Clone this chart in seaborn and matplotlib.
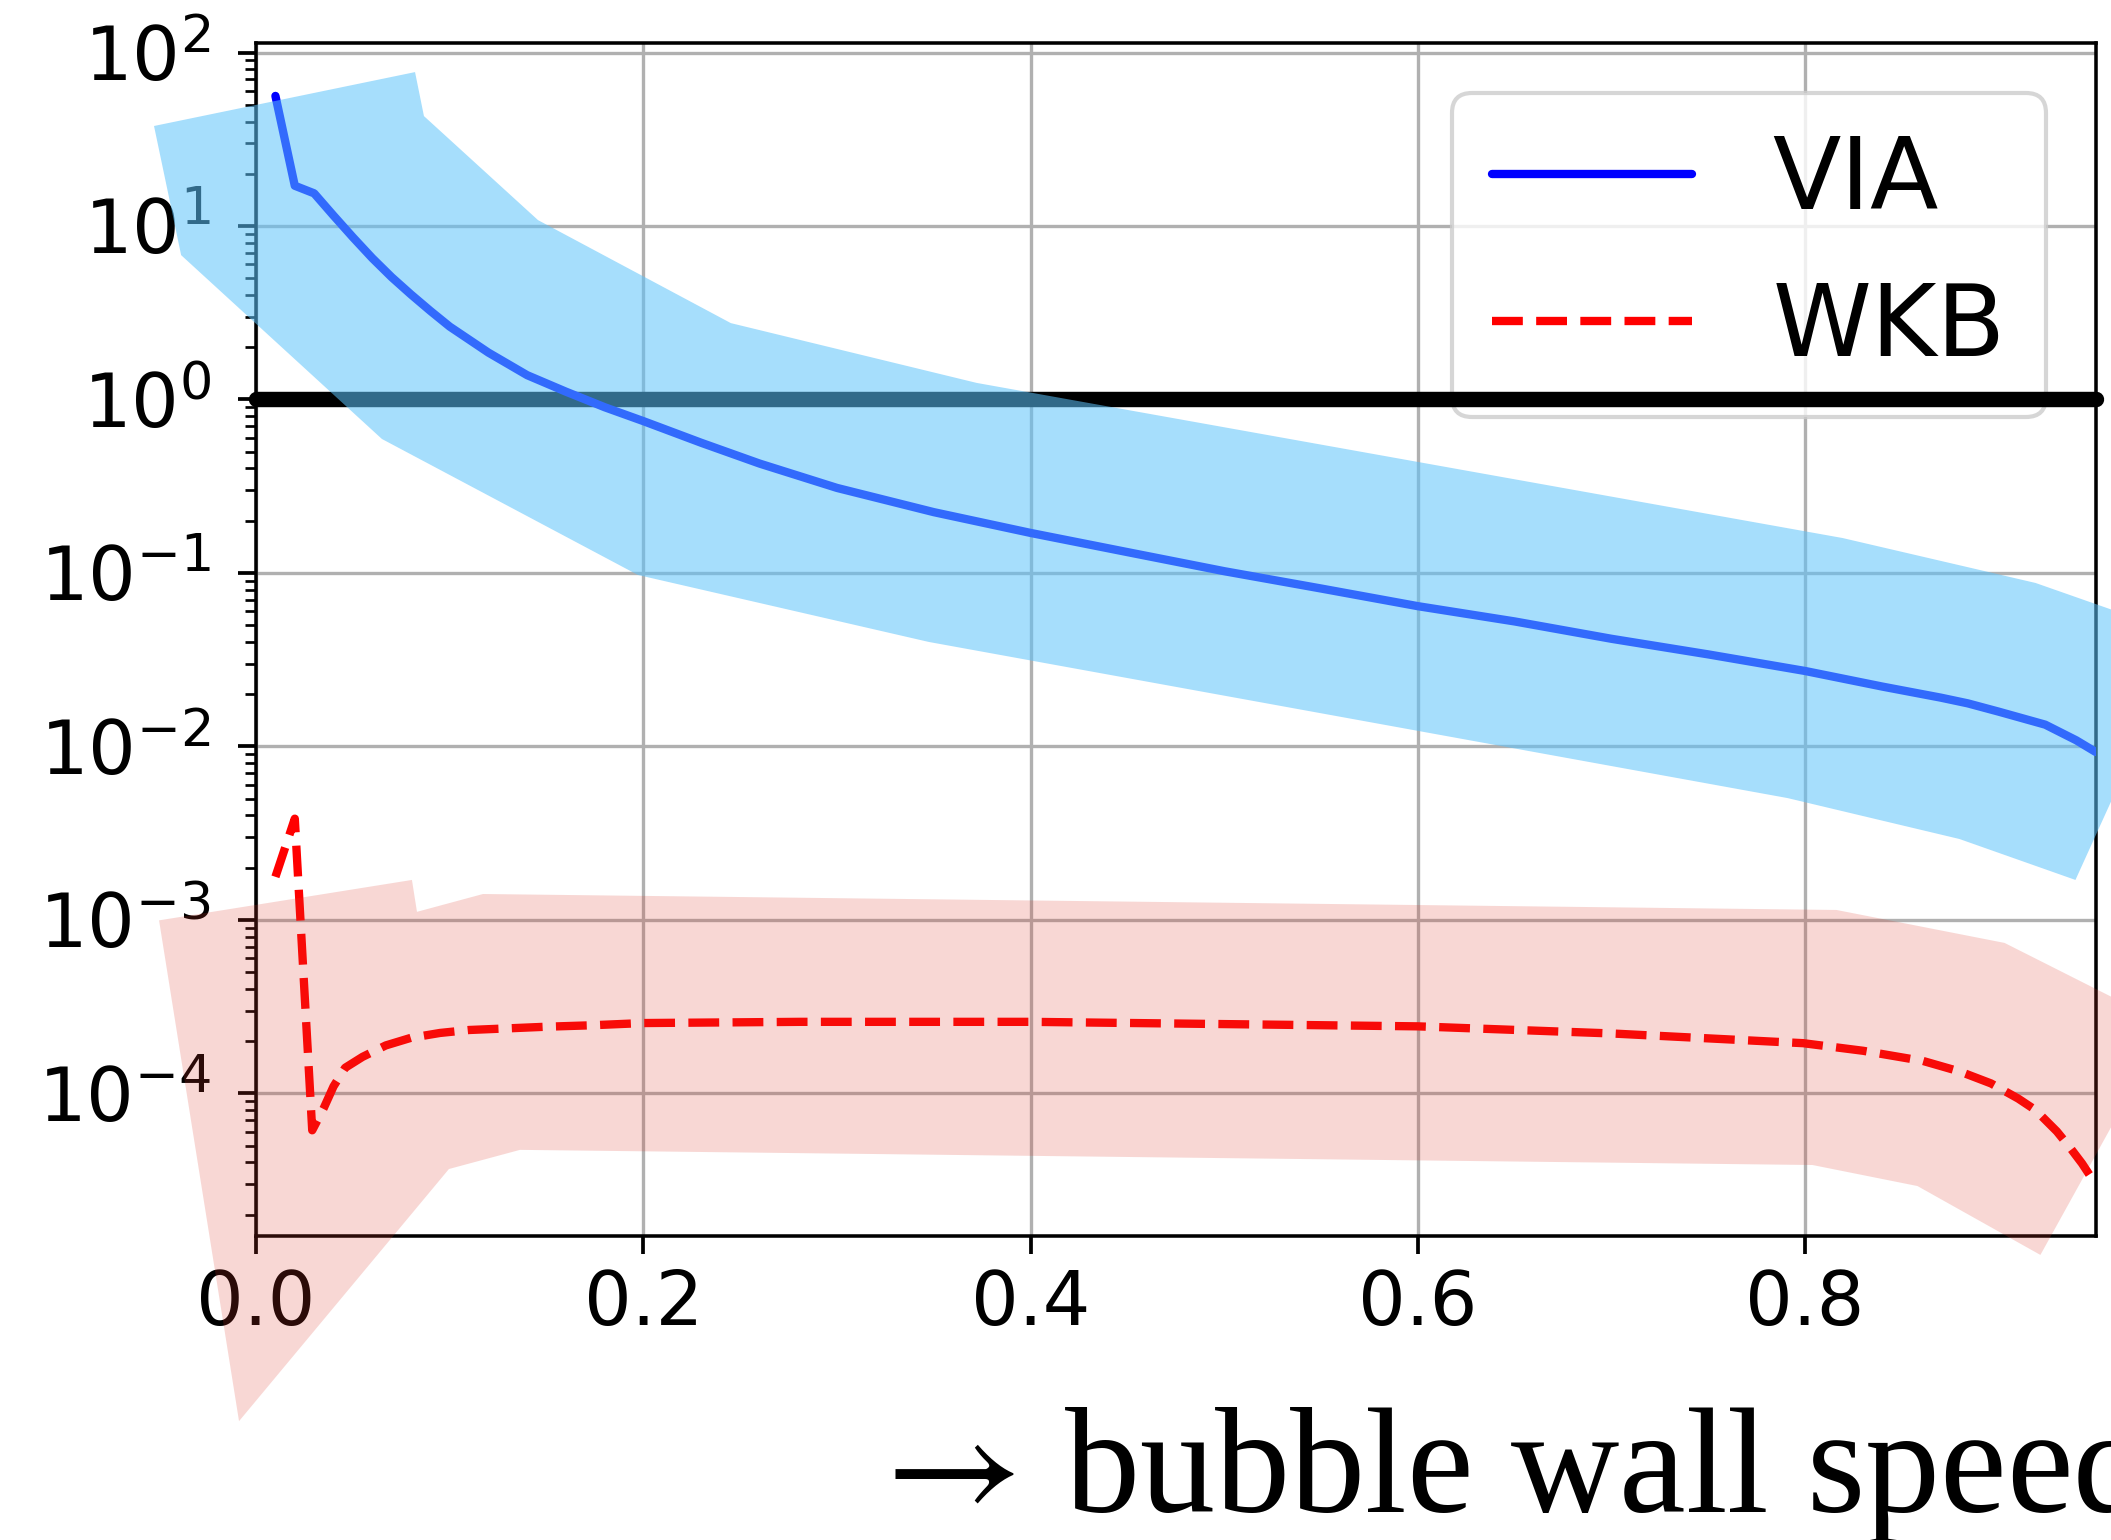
import matplotlib
matplotlib.use("Agg")
import matplotlib.pyplot as plt
import pandas as pd
import seaborn as sns

# curves (x = bubble wall speed)
via_x = [0.010, 0.020, 0.030, 0.040, 0.050, 0.060, 0.070, 0.080, 0.090, 0.100,
         0.120, 0.140, 0.160, 0.180, 0.200, 0.230, 0.260, 0.300, 0.350, 0.400,
         0.450, 0.500, 0.550, 0.600, 0.650, 0.700, 0.750, 0.800, 0.840, 0.870,
         0.884, 0.900, 0.924, 0.940, 0.950]
via_y = [56.2, 17.06, 15.42, 11.48, 8.61, 6.53, 5.07, 4.03, 3.24, 2.63,
         1.862, 1.380, 1.109, 0.902, 0.750, 0.562, 0.427, 0.309, 0.224, 0.170,
         0.1318, 0.1023, 0.0813, 0.0643, 0.0525, 0.0417, 0.0339, 0.0272,
         0.0221, 0.0191, 0.0177, 0.01585, 0.01334, 0.01084, 0.00929]

wkb_x = [0.010, 0.020, 0.029, 0.035, 0.040, 0.046, 0.055, 0.067, 0.080, 0.095,
         0.110, 0.127, 0.150, 0.173, 0.200, 0.281, 0.400, 0.600, 0.700, 0.799,
         0.830, 0.861, 0.880, 0.896, 0.910, 0.919, 0.930, 0.937, 0.943, 0.948,
         0.950]
wkb_y = [1.77e-3, 3.83e-3, 6.12e-5, 8.24e-5, 1.096e-4, 1.403e-4, 1.622e-4,
         1.888e-4, 2.089e-4, 2.228e-4, 2.317e-4, 2.360e-4, 2.420e-4, 2.466e-4,
         2.541e-4, 2.582e-4, 2.582e-4, 2.432e-4, 2.213e-4, 1.945e-4, 1.758e-4,
         1.535e-4, 1.334e-4, 1.140e-4, 9.33e-5, 8.00e-5, 6.03e-5, 4.83e-5,
         3.94e-5, 3.24e-5, 2.97e-5]

# shaded bands (polygon outlines, they run past the axes)
via_band_x = [-0.0527, 0.0821, 0.0867, 0.1456, 0.2452, 0.3722, 0.8193, 0.9190,
              0.9675, 0.9675, 0.9396, 0.8797, 0.7909, 0.3474, 0.1972, 0.0650,
              -0.0387]
via_band_y = [37.7, 77.1, 43.0, 10.81, 2.754, 1.245, 0.1589, 0.0875, 0.0565,
              0.00824, 0.001698, 0.002924, 0.005035, 0.0400, 0.0973, 0.5916,
              6.79]

wkb_band_x = [-0.0501, 0.0805, 0.0831, 0.1172, 0.8162, 0.9030, 0.9675, 0.9675,
              0.9215, 0.8580, 0.8038, 0.1363, 0.0996, -0.0088]
wkb_band_y = [9.93e-4, 1.698e-3, 1.112e-3, 1.409e-3, 1.140e-3, 7.36e-4,
              3.19e-4, 9.91e-5, 1.170e-5, 2.92e-5, 3.86e-5, 4.72e-5, 3.66e-5,
              1.288e-6]

sns.set_style("ticks", {"axes.edgecolor": "black", "xtick.color": "black",
                        "ytick.color": "black", "text.color": "black",
                        "axes.labelcolor": "black"})
plt.rcParams["font.family"] = ["DejaVu Sans"]

fig = plt.figure(figsize=(2111 / 300, 1540 / 300))
ax = fig.add_axes([0.1213, 0.1977, 0.8714, 0.7744])
ax.set_yscale("log")

via = pd.DataFrame({"v": via_x, "r": via_y})
wkb = pd.DataFrame({"v": wkb_x, "r": wkb_y})
sns.lineplot(data=via, x="v", y="r", color="blue", lw=2, label="VIA",
             ax=ax, zorder=6.5)
sns.lineplot(data=wkb, x="v", y="r", color="red", lw=2, linestyle="--",
             label="WKB", ax=ax, zorder=6.5)

ax.axhline(1, color="black", lw=3.7, clip_on=False, zorder=6)

ax.fill(via_band_x, via_band_y, color="#5dc3fb", alpha=0.55, lw=0,
        clip_on=False, zorder=7)
ax.fill(wkb_band_x, wkb_band_y, color="#dc3a2c", alpha=0.2, lw=0,
        clip_on=False, zorder=7)

ax.set_xlim(0, 0.95)
ax.set_ylim(10 ** -4.82, 10 ** 2.055)
ax.set_xticks([0.0, 0.2, 0.4, 0.6, 0.8])
ax.grid(True, which="major", color="#b0b0b0", lw=0.8)
for s in ax.spines.values():
    s.set_linewidth(0.85)
ax.tick_params(which="major", labelsize=18, length=4.4, width=0.9)
ax.tick_params(which="minor", length=2.6, width=0.65)
ax.tick_params(axis="y", which="major", pad=6.5)

ax.set_ylabel("")
ax.set_xlabel(r"$\rightarrow\!$ bubble wall speed", fontsize=36,
              family=["Liberation Serif", "DejaVu Serif"],
              math_fontfamily="stix", ha="left", va="baseline")
ax.xaxis.set_label_coords(0.33, -0.2315)

ax.legend(loc="upper right", fontsize=24, framealpha=0.8, edgecolor="0.8")

fig.savefig("out.png", dpi=300)
